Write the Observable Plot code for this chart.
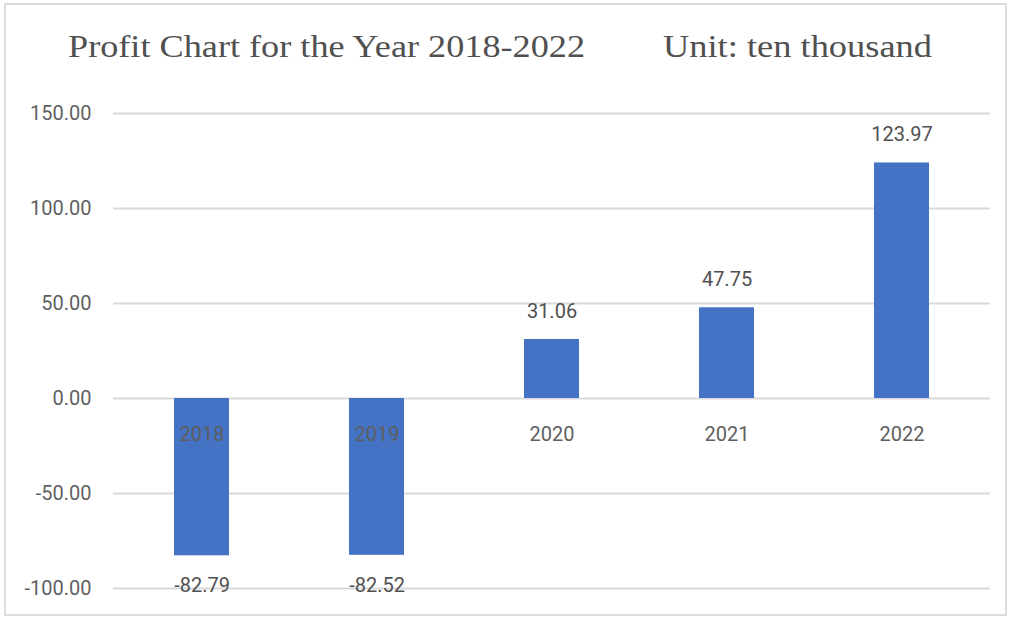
<!DOCTYPE html>
<html>
<head>
<meta charset="utf-8">
<script src="https://cdn.jsdelivr.net/npm/d3@7"></script>
<script src="https://cdn.jsdelivr.net/npm/@observablehq/plot@0.6"></script>
<style>
  html, body { margin: 0; padding: 0; background: #fff; }
  #wrap { position: relative; width: 1016px; height: 618px; overflow: hidden; background: #fff; }
  #frame { position: absolute; left: 4px; top: 3px; width: 1003px; height: 613px; box-sizing: border-box; border: 2px solid #dcdcdc; pointer-events: none; }
  #title { position: relative; height: 90px; font-family: "Liberation Serif", "DejaVu Serif", serif; font-size: 32px; line-height: 32px; color: #505050; }
  #title span { position: absolute; top: 30px; white-space: pre; transform-origin: 0 0; }
  #chart svg { display: block; }
</style>
</head>
<body>
<div id="wrap">
  <div id="title"><span id="t1"></span><span id="t2"></span></div>
  <div id="chart"></div>
  <div id="frame"></div>
</div>
<script>
const titleText = "Profit Chart for the Year 2018-2022";
const unitText = "Unit: ten thousand";
const years = ["2018", "2019", "2020", "2021", "2022"];
const profits = [-82.79, -82.52, 31.06, 47.75, 123.97];
const yTicks = [-100, -50, 0, 50, 100, 150];

function placeTitle(el, text, left, targetWidth) {
  el.textContent = text;
  el.style.left = left + "px";
  const w = el.getBoundingClientRect().width;
  el.style.transform = `scaleX(${targetWidth / w})`;
}
placeTitle(document.getElementById("t1"), titleText, 68, 517);
placeTitle(document.getElementById("t2"), unitText, 663, 269);

const data = years.map((y, i) => ({year: y, value: profits[i]}));
const fmt = d => d.toFixed(2);

const chart = Plot.plot({
  width: 1016,
  height: 528,
  marginTop: 23,
  marginBottom: 30,
  marginLeft: 113,
  marginRight: 26,
  style: {fontFamily: "Roboto, sans-serif", fontSize: "20px", color: "#5f5f5f", background: "transparent"},
  x: {type: "band", domain: years, padding: 0, axis: null},
  y: {domain: [-100, 150], ticks: yTicks, tickFormat: fmt, tickSize: 0, tickPadding: 22, label: null},
  marks: [
    Plot.ruleY(yTicks, {stroke: "#d9d9d9", strokeWidth: 2}),
    Plot.barY(data, {x: "year", y: "value", fill: "#4472C4", insetLeft: 60, insetRight: 60}),
    Plot.text(data, {x: "year", y: () => 0, text: "year", dy: 36, fill: "#5f5f5f", fontSize: 20}),
    Plot.text(data.filter(d => d.value >= 0), {x: "year", y: "value", text: d => fmt(d.value), dy: -28, fill: "#505050", fontSize: 20}),
    Plot.text(data.filter(d => d.value < 0), {x: "year", y: "value", text: d => fmt(d.value), dy: 30, fill: "#505050", fontSize: 20})
  ]
});
document.getElementById("chart").appendChild(chart);
</script>
</body>
</html>
